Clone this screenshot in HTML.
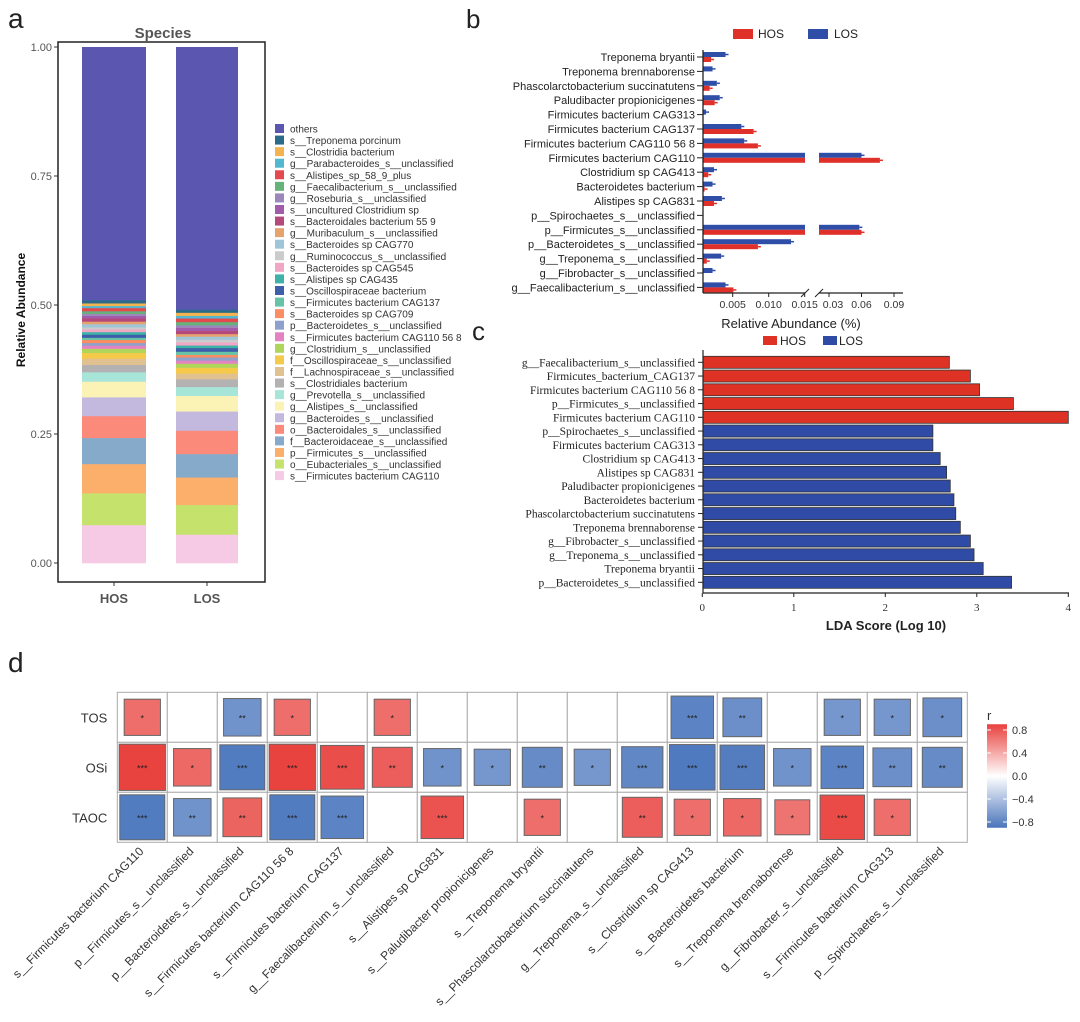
<!DOCTYPE html>
<html><head><meta charset="utf-8"><style>
html,body{margin:0;padding:0;background:#fff;}
svg{display:block;font-family:"Liberation Sans",sans-serif;}
</style></head><body>
<svg id="fig" width="1080" height="1022" viewBox="0 0 1080 1022" xmlns="http://www.w3.org/2000/svg">
<text x="8" y="28" font-size="28" fill="#222">a</text>
<text x="466" y="28" font-size="26" fill="#222">b</text>
<text x="472" y="340" font-size="26" fill="#222">c</text>
<text x="8" y="672" font-size="28" fill="#222">d</text>
<g id="pa"></g>
<g id="pb"></g>
<g id="pc"></g>
<g id="pd"></g>
</svg>
<script>
// ---------- Panel a data ----------
const aTaxa=["s__Firmicutes bacterium CAG110","o__Eubacteriales_s__unclassified","p__Firmicutes_s__unclassified","f__Bacteroidaceae_s__unclassified","o__Bacteroidales_s__unclassified","g__Bacteroides_s__unclassified","g__Alistipes_s__unclassified","g__Prevotella_s__unclassified","s__Clostridiales bacterium","f__Lachnospiraceae_s__unclassified","f__Oscillospiraceae_s__unclassified","g__Clostridium_s__unclassified","s__Firmicutes bacterium CAG110 56 8","p__Bacteroidetes_s__unclassified","s__Bacteroides sp CAG709","s__Firmicutes bacterium CAG137","s__Oscillospiraceae bacterium","s__Alistipes sp CAG435","s__Bacteroides sp CAG545","g__Ruminococcus_s__unclassified","s__Bacteroides sp CAG770","g__Muribaculum_s__unclassified","s__Bacteroidales bacterium 55 9","s__uncultured Clostridium sp","g__Roseburia_s__unclassified","g__Faecalibacterium_s__unclassified","s__Alistipes_sp_58_9_plus","g__Parabacteroides_s__unclassified","s__Clostridia bacterium","s__Treponema porcinum","others"];
const aColors=["#f6c9e4","#c4e26c","#fcae6b","#86aac9","#fb8a7b","#c3b8de","#fbf3b6","#a8e5d9","#b3b1b1","#e2c190","#f5c94a","#b0d55b","#e582c2","#8da1cc","#fb8d63","#67c3a6","#3d5ea8","#3fb2a8","#f2a6c5","#cbcbcb","#9fc5d9","#e5a46f","#b5497b","#a25ca9","#9b87b9","#66b27b","#e3494e","#51b8d0","#f3b34f","#2c6a8b","#5b57b1"];
const aHOS=[0.073,0.061,0.056,0.050,0.042,0.036,0.030,0.018,0.014,0.012,0.011,0.008,0.006,0.005,0.006,0.004,0.006,0.005,0.005,0.004,0.006,0.005,0.006,0.005,0.004,0.005,0.006,0.004,0.005,0.006,0.485];
const aLOS=[0.055,0.057,0.053,0.045,0.045,0.037,0.030,0.017,0.015,0.011,0.011,0.008,0.006,0.006,0.005,0.006,0.007,0.005,0.006,0.005,0.006,0.005,0.006,0.006,0.005,0.006,0.007,0.005,0.006,0.006,0.505];
const aGroups=["HOS","LOS"];
const aTicks=[0,0.25,0.5,0.75,1.0];
const aTickLabels=["0.00","0.25","0.50","0.75","1.00"];
// ---------- Panel b data ----------
const bCats=["Treponema bryantii","Treponema brennaborense","Phascolarctobacterium succinatutens","Paludibacter propionicigenes","Firmicutes bacterium CAG313","Firmicutes bacterium CAG137","Firmicutes bacterium CAG110 56 8","Firmicutes bacterium CAG110","Clostridium sp CAG413","Bacteroidetes bacterium","Alistipes sp CAG831","p__Spirochaetes_s__unclassified","p__Firmicutes_s__unclassified","p__Bacteroidetes_s__unclassified","g__Treponema_s__unclassified","g__Fibrobacter_s__unclassified","g__Faecalibacterium_s__unclassified"];
const bLOS=[0.0040,0.0022,0.0028,0.0032,0.0013,0.0062,0.0066,0.060,0.0024,0.0022,0.0035,0,0.058,0.0131,0.0034,0.0022,0.0040];
const bHOS=[0.0020,0,0.0018,0.0025,0,0.0079,0.0085,0.077,0.0016,0.0011,0.0024,0,0.060,0.0085,0.0014,0,0.0051];
const bTicksL=[0.005,0.010,0.015];
const bTicksLLab=["0.005","0.010","0.015"];
const bTicksR=[0.03,0.06,0.09];
const bTicksRLab=["0.03","0.06","0.09"];
// ---------- Panel c data ----------
const cCats=["g__Faecalibacterium_s__unclassified","Firmicutes_bacterium_CAG137","Firmicutes bacterium CAG110 56 8","p__Firmicutes_s__unclassified","Firmicutes bacterium CAG110","p__Spirochaetes_s__unclassified","Firmicutes bacterium CAG313","Clostridium sp CAG413","Alistipes sp CAG831","Paludibacter propionicigenes","Bacteroidetes bacterium","Phascolarctobacterium succinatutens","Treponema brennaborense","g__Fibrobacter_s__unclassified","g__Treponema_s__unclassified","Treponema bryantii","p__Bacteroidetes_s__unclassified"];
const cScores=[2.70,2.93,3.03,3.40,4.00,2.52,2.52,2.60,2.67,2.71,2.75,2.77,2.82,2.93,2.97,3.07,3.38];
const cGroup=["HOS","HOS","HOS","HOS","HOS","LOS","LOS","LOS","LOS","LOS","LOS","LOS","LOS","LOS","LOS","LOS","LOS"];
const cTicks=[0,1,2,3,4];
// ---------- Panel d data ----------
const dRows=["TOS","OSi","TAOC"];
const dCols=["s__Firmicutes  bacterium  CAG110","p__Firmicutes_s__unclassified","p__Bacteroidetes_s__unclassified","s__Firmicutes  bacterium  CAG110 56 8","s__Firmicutes  bacterium  CAG137","g__Faecalibacterium_s__unclassified","s__Alistipes sp   CAG831","s__Paludibacter propionicigenes","s__Treponema  bryantii","s__Phascolarctobacterium succinatutens","g__Treponema_s__unclassified","s__Clostridium  sp  CAG413","s__Bacteroidetes  bacterium","s__Treponema  brennaborense","g__Fibrobacter_s__unclassified","s__Firmicutes  bacterium  CAG313","p__Spirochaetes_s__unclassified"];
const dTOS=[0.45,null,-0.5,0.45,null,0.45,null,null,null,null,null,-0.7,-0.55,null,-0.45,-0.45,-0.55];
const dOSi=[0.85,0.5,-0.8,0.85,0.75,0.6,-0.5,-0.45,-0.6,-0.45,-0.65,-0.82,-0.78,-0.5,-0.7,-0.55,-0.6];
const dTAOC=[-0.8,-0.5,0.55,-0.8,-0.7,null,0.7,null,0.45,null,0.6,0.45,0.5,0.4,0.78,0.45,null];
const dSigTOS=["*","","**","*","","*","","","","","","***","**","","*","*","*"];
const dSigOSi=["***","*","***","***","***","**","*","*","**","*","***","***","***","*","***","**","**"];
const dSigTAOC=["***","**","**","***","***","","***","","*","","**","*","*","*","***","*",""];
const dLegTicks=[0.8,0.4,0.0,-0.4,-0.8];
const dLegLab=["0.8","0.4","0.0","\u22120.4","\u22120.8"];

const NS="http://www.w3.org/2000/svg";
function mk(p,t,a,txt){const e=document.createElementNS(NS,t);for(const k in a)e.setAttribute(k,a[k]);if(txt!==undefined)e.textContent=txt;p.appendChild(e);return e;}

// ===== Panel a =====
(function(){
const g=document.getElementById('pa');
const y=v=>563-v*516;
const barX=[82,176],barW=[64,62];
let e=mk(g,'text',{x:163,y:38,'font-size':15,'font-weight':'bold',fill:'#555','text-anchor':'middle'},'Species');

[aHOS,aLOS].forEach((vals,gi)=>{const tot=vals.reduce((s,v)=>s+v,0);let acc=0;vals.forEach((v,i)=>{const f=v/tot;const r=mk(g,'rect',{x:barX[gi],y:y(acc+f),width:barW[gi],height:f*516+0.3,fill:aColors[i]});acc+=f;});});
e=mk(g,'rect',{x:58,y:42,width:207,height:540,fill:'none',stroke:'#222','stroke-width':1.5});

aTicks.forEach((t,i)=>{mk(g,'line',{x1:54,x2:58,y1:y(t),y2:y(t),stroke:'#333'});const tl=mk(g,'text',{x:52,y:y(t)+4,'font-size':11,fill:'#555','text-anchor':'end'},aTickLabels[i]);});
aGroups.forEach((gn,i)=>{const cx=barX[i]+barW[i]/2;mk(g,'line',{x1:cx,x2:cx,y1:582,y2:586,stroke:'#333'});const t=mk(g,'text',{x:cx,y:603,'font-size':13,'font-weight':'bold',fill:'#555','text-anchor':'middle'},gn);});
e=mk(g,'text',{x:0,y:0,'font-size':12,'font-weight':'bold',fill:'#111','text-anchor':'middle',transform:'translate(25,310) rotate(-90)'},'Relative Abundance');

for(let k=0;k<aTaxa.length;k++){const i=aTaxa.length-1-k;const yy=129+k*11.57;const r=mk(g,'rect',{x:275,y:yy-5,width:9,height:9,fill:aColors[i]});const t=mk(g,'text',{x:290,y:yy+3.5,'font-size':10,fill:'#333'},aTaxa[i]);}
})();

// ===== Panel b =====
(function(){
const g=document.getElementById('pb');
const xL=v=>696.7+v*7200;
const xR=v=>829+(v-0.03)*(65/0.06);
const rowY=i=>57+i*14.4;
const RED="#e0302a",BLUE="#2f4ea8";
let e;
bCats.forEach((c,i)=>{const cy=rowY(i);
 const t=mk(g,'text',{x:695,y:cy+4,'font-size':11,fill:'#222','text-anchor':'end'},c);
 mk(g,'line',{x1:697,x2:703,y1:cy,y2:cy,stroke:'#222'});
 [[bLOS[i],BLUE,cy-5,'LOS'],[bHOS[i],RED,cy,'HOS']].forEach(([v,col,yy,nm])=>{
  if(v<=0)return;
  if(v<=0.015){const w=xL(v)-703;const r=mk(g,'rect',{x:703,y:yy,width:Math.max(w,0),height:5,fill:col});
   mk(g,'line',{x1:703+w,x2:703+w+3,y1:yy+2.5,y2:yy+2.5,stroke:col,'stroke-width':1.5});}
  else{let r=mk(g,'rect',{x:703,y:yy,width:102,height:5,fill:col});
   const w=xR(v)-819;r=mk(g,'rect',{x:819,y:yy,width:w,height:5,fill:col});
   mk(g,'line',{x1:819+w,x2:819+w+3,y1:yy+2.5,y2:yy+2.5,stroke:col,'stroke-width':1.5});}
 });
});
mk(g,'line',{x1:703,x2:703,y1:50,y2:293,stroke:'#222','stroke-width':1.3});
mk(g,'line',{x1:703,x2:805,y1:293,y2:293,stroke:'#222','stroke-width':1.3});
mk(g,'line',{x1:819,x2:903,y1:293,y2:293,stroke:'#222','stroke-width':1.3});
mk(g,'line',{x1:801,x2:809,y1:297,y2:289,stroke:'#222'});mk(g,'line',{x1:815,x2:823,y1:297,y2:289,stroke:'#222'});
bTicksL.forEach((t,i)=>{mk(g,'line',{x1:xL(t),x2:xL(t),y1:293,y2:297,stroke:'#222'});const l=mk(g,'text',{x:xL(t),y:308,'font-size':10.5,fill:'#333','text-anchor':'middle'},bTicksLLab[i]);});
bTicksR.forEach((t,i)=>{mk(g,'line',{x1:xR(t),x2:xR(t),y1:293,y2:297,stroke:'#222'});const l=mk(g,'text',{x:xR(t)+(i==0?4:0),y:308,'font-size':10.5,fill:'#333','text-anchor':'middle'},bTicksRLab[i]);});
e=mk(g,'text',{x:791,y:328,'font-size':13,fill:'#222','text-anchor':'middle'},'Relative Abundance (%)');
e=mk(g,'rect',{x:733,y:29,width:20,height:10,fill:RED});
e=mk(g,'text',{x:758,y:38,'font-size':12,fill:'#222'},'HOS');
e=mk(g,'rect',{x:808,y:29,width:20,height:10,fill:BLUE});
e=mk(g,'text',{x:834,y:38,'font-size':12,fill:'#222'},'LOS');
})();

// ===== Panel c =====
(function(){
const g=document.getElementById('pc');
const x=v=>702.3+v*91.5;
const rowY=i=>362.3+i*13.75;
const col={HOS:"#dd3224",LOS:"#2f4ba6"};
let e;
cCats.forEach((c,i)=>{const cy=rowY(i);
 const t=mk(g,'text',{x:695,y:cy+4,'font-size':11.5,fill:'#222','text-anchor':'end','font-family':'Liberation Serif, serif'},c);
 mk(g,'line',{x1:698,x2:703,y1:cy,y2:cy,stroke:'#222'});
 const r=mk(g,'rect',{x:703,y:cy-6,width:x(cScores[i])-703,height:12,fill:col[cGroup[i]],stroke:'#333','stroke-width':0.8});
});
mk(g,'line',{x1:703,x2:703,y1:350,y2:593,stroke:'#222','stroke-width':1.2});
mk(g,'line',{x1:703,x2:1069,y1:593,y2:593,stroke:'#222','stroke-width':1.2});
cTicks.forEach(t=>{mk(g,'line',{x1:x(t),x2:x(t),y1:593,y2:597,stroke:'#222'});const l=mk(g,'text',{x:x(t),y:611,'font-size':11,fill:'#333','text-anchor':'middle','font-family':'Liberation Serif, serif'},String(t));});
e=mk(g,'text',{x:886,y:630,'font-size':13,'font-weight':'bold',fill:'#222','text-anchor':'middle'},'LDA Score (Log 10)');
e=mk(g,'rect',{x:763,y:336,width:14,height:9,fill:col.HOS});
e=mk(g,'text',{x:780,y:345,'font-size':12,fill:'#222'},'HOS');
e=mk(g,'rect',{x:823,y:336,width:14,height:9,fill:col.LOS});
e=mk(g,'text',{x:839,y:345,'font-size':12,fill:'#222'},'LOS');
})();

// ===== Panel d =====
(function(){
const g=document.getElementById('pd');
const x0=117.3,y0=692.3,cw=50,ch=50;
function colr(r){const t=Math.min(Math.abs(r)/0.9,1);
 const a=r>0?[232,62,58]:[72,116,188];
 const c=[255,255,255].map((w,k)=>Math.round(w+(a[k]-w)*(0.5+0.5*t)));return 'rgb('+c.join(',')+')';}
const data=[dTOS,dOSi,dTAOC],sig=[dSigTOS,dSigOSi,dSigTAOC];
dRows.forEach((rn,ri)=>{
 const t=mk(g,'text',{x:x0-10,y:y0+ri*ch+ch/2+5,'font-size':13,fill:'#333','text-anchor':'end'},rn);
 dCols.forEach((cn,ci)=>{
  const cell=mk(g,'rect',{x:x0+ci*cw,y:y0+ri*ch,width:cw,height:ch,fill:'#fff',stroke:'#aaa','stroke-width':1});
 });
});
dRows.forEach((rn,ri)=>{dCols.forEach((cn,ci)=>{
  const v=data[ri][ci];if(v===null)return;
  const s=25+25*Math.min(Math.abs(v),1);const cx=x0+ci*cw+cw/2,cy=y0+ri*ch+ch/2;
  const r=mk(g,'rect',{x:cx-s/2,y:cy-s/2,width:s,height:s,fill:colr(v),stroke:'#666','stroke-width':1});
  const st=mk(g,'text',{x:cx,y:cy+4,'font-size':9,fill:'#222','text-anchor':'middle'},sig[ri][ci]);
});});
dCols.forEach((cn,ci)=>{const cx=x0+ci*cw+cw/2+2;const t=mk(g,'text',{x:0,y:0,'font-size':12,fill:'#333','text-anchor':'end','xml:space':'preserve',transform:'translate('+cx+',852) rotate(-45)'},cn);});
const defs=mk(g,'defs',{});const lg=mk(defs,'linearGradient',{id:'rg',x1:0,y1:0,x2:0,y2:1});
mk(lg,'stop',{offset:'0','stop-color':'#e8413e'});mk(lg,'stop',{offset:'0.5','stop-color':'#ffffff'});mk(lg,'stop',{offset:'1','stop-color':'#4a74bb'});
const ly=v=>776-v*57.5;
let e=mk(g,'rect',{x:987,y:ly(0.9),width:20,height:ly(-0.9)-ly(0.9),fill:'url(#rg)'});
e=mk(g,'text',{x:987,y:720,'font-size':13,fill:'#333'},'r');
dLegTicks.forEach((t,i)=>{mk(g,'line',{x1:987,x2:991,y1:ly(t),y2:ly(t),stroke:'#fff'});mk(g,'line',{x1:1003,x2:1007,y1:ly(t),y2:ly(t),stroke:'#fff'});const l=mk(g,'text',{x:1012,y:ly(t)+4,'font-size':11,fill:'#333'},dLegLab[i]);});
})();
</script>
</body></html>
